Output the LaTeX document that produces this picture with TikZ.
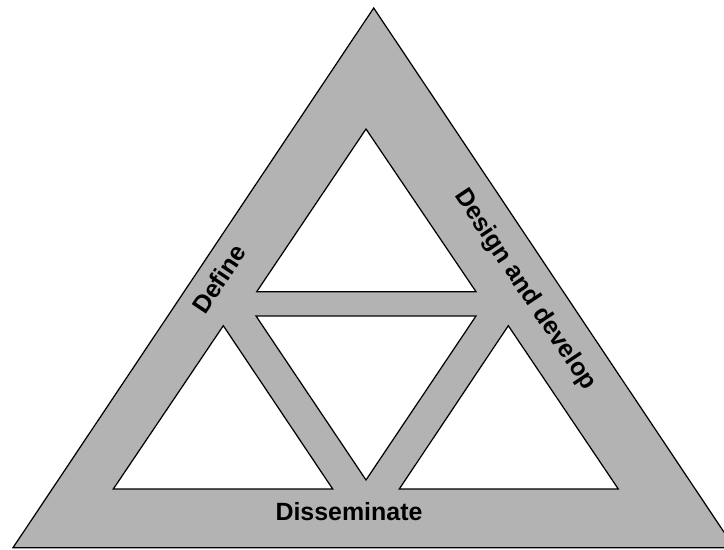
\documentclass[tikz,border=0pt]{standalone}
\usepackage{fontspec}
\setmainfont{Liberation Sans}
\definecolor{colBand}{RGB}{179,179,179}

\begin{document}
\begin{tikzpicture}[x=0.02cm, y=-0.02cm, line width=0.7pt,
  every node/.style={font=\fontsize{14.2}{17}\selectfont\bfseries, inner sep=0pt}]
  % --- frame (right corner runs off the page) ---
  \clip (0,0) rectangle (724,550);
  % --- outer band ---
  \filldraw[fill=colBand] (13,547.7) -- (373.7,8) -- (734.4,547.7) -- cycle;
  % --- inner white triangles ---
  \filldraw[fill=white] (366,129) -- (476,291.7) -- (256.7,291.7) -- cycle;
  \filldraw[fill=white] (256,316) -- (476,316) -- (366,480) -- cycle;
  \filldraw[fill=white] (223.3,325.7) -- (332.7,489) -- (113.3,489) -- cycle;
  \filldraw[fill=white] (508.3,325.7) -- (618.3,489) -- (399.3,489) -- cycle;
  % --- labels on the band ---
  \node[rotate=56.2] (define) at (219,279) {Define};
  \node[rotate=-56.2] (design) at (525,290) {Design and develop};
  \node (dissem) at (349,512) {Disseminate};
\end{tikzpicture}
\end{document}
